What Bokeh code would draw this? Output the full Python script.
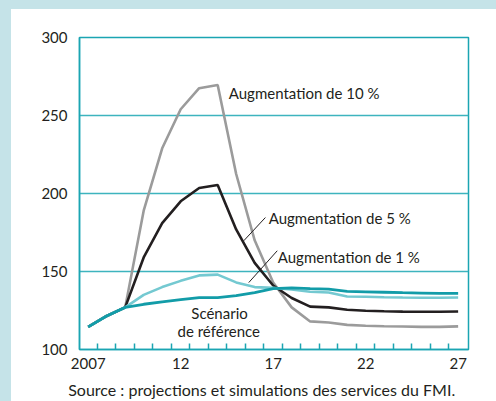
from bokeh.plotting import figure
from bokeh.models import Range1d, FixedTicker, Spacer
from bokeh.layouts import column, row
from bokeh.core.properties import value
from bokeh.embed import file_html
from bokeh.resources import INLINE

years = list(range(2007, 2028))
baseline = [114.5, 121.5, 127, 129, 130.5, 132, 133.3, 133.3, 134.5, 136.5, 139, 139.5,
            139, 138.7, 137.3, 137, 136.7, 136.4, 136.2, 136, 136]
aug1 = [114.5, 121.5, 127, 135, 140, 144, 147.5, 148, 143, 140, 139.5, 138.5,
        137, 136.5, 134, 133.8, 133.5, 133.3, 133.2, 133.2, 133.3]
aug5 = [114.5, 121.5, 127, 159, 181, 195, 203.5, 205.5, 177, 155.5, 141, 133,
        127.5, 127, 125.5, 124.8, 124.5, 124.3, 124.2, 124.2, 124.4]
aug10 = [114.5, 121.5, 127, 189, 229, 254, 267.5, 269.5, 212.5, 170, 143, 127,
         118, 117.3, 115.8, 115.2, 114.9, 114.7, 114.5, 114.5, 114.8]

y_ticks = [100, 150, 200, 250, 300]
x_label_years = [2007, 2012, 2017, 2022, 2027]
x_label_texts = ["2007", "12", "17", "22", "27"]
x_minor = [y + 0.5 for y in range(2007, 2027)]

ann_text = ["Augmentation de 10 %", "Augmentation de 5 %", "Augmentation de 1 %"]
ann_x = [2014.6, 2016.76, 2017.25]
ann_y = [264.7, 184.2, 159.4]
lead_x0 = [2015.41, 2015.68]
lead_y0 = [169.7, 142.9]
lead_x1 = [2016.58, 2017.22]
lead_y1 = [184.6, 163.3]
ref_text = ["Scénario", "de référence"]
ref_x = [2014.1, 2014.06]
ref_y = [123.7, 112.0]
source_text = "Source : projections et simulations des services du FMI."

TEAL_AX = "#1ba5b2"
TEAL_GRID = "#3db4be"
C_BASE = "#129ca8"
C_1 = "#74c9d1"
C_5 = "#231f20"
C_10 = "#9b9b9b"
TXT = "#231f20"
BLUE_BG = "#c5e3e8"
FONT = "Lato"

p = figure(width=485, height=392, output_backend="svg", toolbar_location=None,
           x_range=Range1d(2006.53, 2027.56), y_range=Range1d(100, 300),
           min_border_left=68, min_border_right=28, min_border_top=28, min_border_bottom=52)
p.background_fill_color = "white"
p.border_fill_color = "white"
p.outline_line_color = TEAL_AX
p.outline_line_width = 1.5

p.xgrid.grid_line_color = None
p.ygrid.grid_line_color = TEAL_GRID
p.ygrid.grid_line_width = 1.5
p.ygrid.ticker = FixedTicker(ticks=y_ticks)

p.yaxis.ticker = FixedTicker(ticks=y_ticks)
p.yaxis.axis_line_color = TEAL_AX
p.yaxis.axis_line_width = 1.5
p.yaxis.major_tick_line_color = None
p.yaxis.minor_tick_line_color = None
p.yaxis.major_label_standoff = 6
p.yaxis.major_label_text_font = FONT
p.yaxis.major_label_text_font_size = "15px"
p.yaxis.major_label_text_color = TXT

p.xaxis.ticker = FixedTicker(ticks=x_label_years, minor_ticks=x_minor)
p.xaxis.major_label_overrides = {yr: t for yr, t in zip(x_label_years, x_label_texts)}
p.xaxis.axis_line_color = TEAL_AX
p.xaxis.axis_line_width = 1.5
p.xaxis.major_tick_line_color = None
p.xaxis.major_tick_in = 0
p.xaxis.major_tick_out = 0
p.xaxis.minor_tick_line_color = TEAL_AX
p.xaxis.minor_tick_line_width = 1.5
p.xaxis.minor_tick_in = 6
p.xaxis.minor_tick_out = 0
p.xaxis.major_label_standoff = 8
p.xaxis.major_label_text_font = FONT
p.xaxis.major_label_text_font_size = "15px"
p.xaxis.major_label_text_color = TXT
p.xaxis.axis_label = source_text + "\u00a0" * 6
p.xaxis.axis_label_text_font = FONT
p.xaxis.axis_label_text_font_size = "16px"
p.xaxis.axis_label_text_font_style = "normal"
p.xaxis.axis_label_text_color = TXT
p.xaxis.axis_label_standoff = 8

p.line(years, aug10, line_color=C_10, line_width=2.6)
p.line(years, aug5, line_color=C_5, line_width=2.6)
p.line(years, aug1, line_color=C_1, line_width=2.6)
p.line(years, baseline, line_color=C_BASE, line_width=2.8)

p.segment(x0=lead_x0, y0=lead_y0, x1=lead_x1, y1=lead_y1, line_color=TXT, line_width=1)

p.text(x=ann_x, y=ann_y, text=ann_text, text_font=value(FONT), text_font_size="15px",
       text_color=TXT, text_align="left", text_baseline="middle")
p.text(x=ref_x, y=ref_y, text=ref_text, text_font=value(FONT), text_font_size="15px",
       text_color=TXT, text_align="center", text_baseline="middle")

top_strip = Spacer(width=496, height=9, styles={"background-color": BLUE_BG})
left_strip = Spacer(width=11, height=392, styles={"background-color": BLUE_BG})
layout = column(top_strip, row(left_strip, p, spacing=0), spacing=0)

open("out.html", "w").write(file_html(layout, INLINE))
